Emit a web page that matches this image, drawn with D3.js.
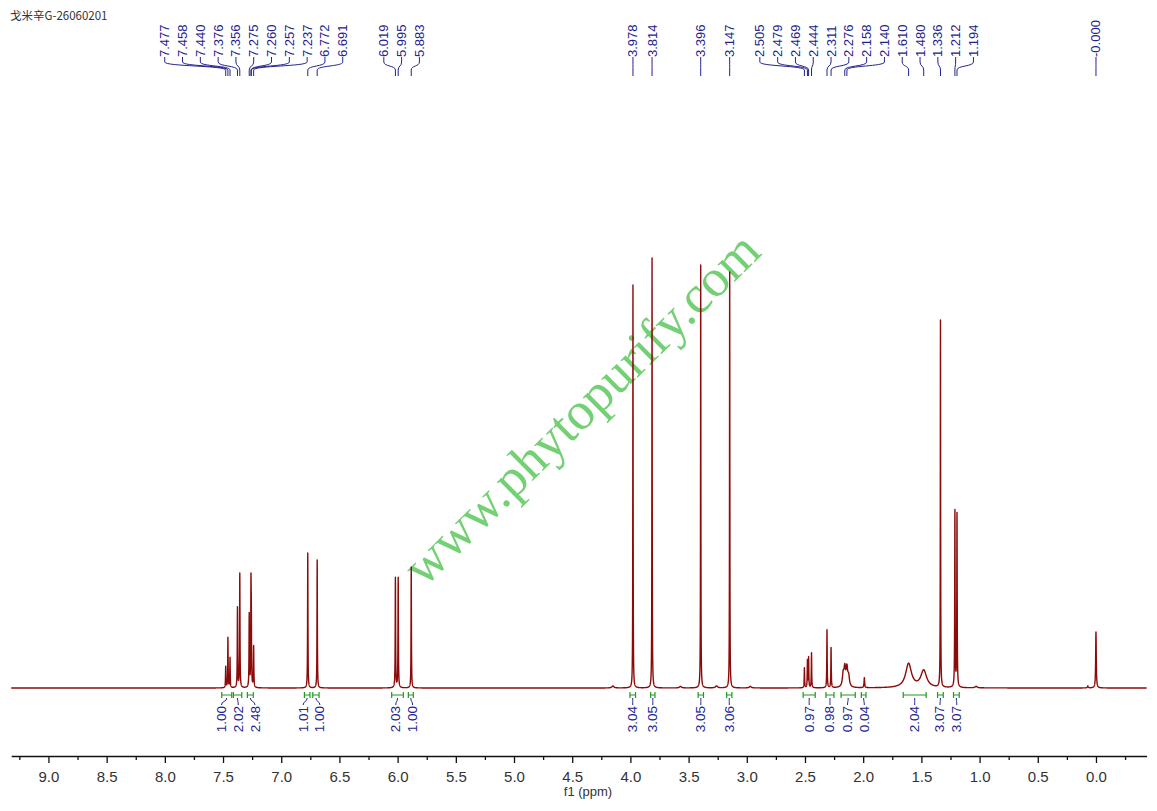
<!DOCTYPE html>
<html><head><meta charset="utf-8">
<script src="https://cdn.jsdelivr.net/npm/d3@7/dist/d3.min.js"></script>
<style>body{margin:0;background:#fff}svg{display:block}</style>
</head><body>
<svg id="c" width="1157" height="811"></svg>
<script>
// ---------- data ----------
const title = "戈米辛G-26060201";
const watermark = "www.phytopurify.com";
const xLabel = "f1 (ppm)";

// spectrum lines: chemical shift (ppm), intensity, half-width (ppm)
const peakPpm    = [7.477,7.458,7.440,7.376,7.356,7.275,7.260,7.257,7.237,6.772,6.691,6.019,5.995,5.883,
                    4.15,3.978,3.814,3.57,3.396,3.26,3.147,2.97,2.505,2.479,2.469,2.444,2.311,2.276,
                    2.172,2.158,2.140,2.125,1.990,1.610,1.480,1.336,1.212,1.194,1.03,0.07,0.000];
const peakHeight = [21,50,30,80,114,73,95,60,41,135,128,110,110,121,
                    2,403,430,1.5,423,2,416,1.5,20,27,30,35,58,40,
                    12,18,18,10,10,24,17,367,176,173,1.5,2,56];
const peakWidth  = [.002,.002,.002,.002,.002,.002,.002,.002,.002,.0018,.0018,.002,.002,.0018,
                    .01,.0015,.0015,.01,.0015,.01,.0015,.01,.002,.002,.002,.002,.002,.002,
                    .008,.008,.008,.008,.003,.03,.03,.0015,.002,.002,.01,.004,.003];

// peak labels on top
const peakLabelPpm  = [7.477,7.458,7.440,7.376,7.356,7.275,7.260,7.257,7.237,6.772,6.691,6.019,5.995,5.883,
                       3.978,3.814,3.396,3.147,2.505,2.479,2.469,2.444,2.311,2.276,2.158,2.140,
                       1.610,1.480,1.336,1.212,1.194,0.000];
const peakLabelText = ["7.477","7.458","7.440","7.376","7.356","7.275","7.260","7.257","7.237","6.772","6.691",
                       "6.019","5.995","5.883","3.978","3.814","3.396","3.147","2.505","2.479","2.469","2.444",
                       "2.311","2.276","2.158","2.140","1.610","1.480","1.336","1.212","1.194","-0.000"];

// integrals
const integralFrom  = [7.511,7.411,7.291,6.801,6.729,6.051,5.908,4.004,3.826,3.418,3.173,2.516,2.320,2.190,2.016,1.656,1.361,1.224];
const integralTo    = [7.425,7.339,7.240,6.753,6.675,5.951,5.865,3.956,3.789,3.372,3.128,2.412,2.251,2.068,1.976,1.459,1.312,1.175];
const integralValue = ["1.00","2.02","2.48","1.01","1.00","2.03","1.00","3.04","3.05","3.05","3.06",
                       "0.97","0.98","0.97","0.04","2.04","3.07","3.07"];

const majorTicks = [9.0,8.5,8.0,7.5,7.0,6.5,6.0,5.5,5.0,4.5,4.0,3.5,3.0,2.5,2.0,1.5,1.0,0.5,0.0];
const minorTicks = [9.25,8.75,8.25,7.75,7.25,6.75,6.25,5.75,5.25,4.75,4.25,3.75,3.25,2.75,2.25,1.75,1.25,0.75,0.25,-0.25];

// ---------- drawing ----------
const svg = d3.select("#c");
const x = d3.scaleLinear().domain([9.32, -0.435]).range([11.2, 1146.6]);
const y = d3.scaleLinear().domain([0, 430]).range([688, 258]);

const navy = "#23238f", green = "#1f9a1f", red = "#8b0a0a";

// title
svg.append("text").attr("x", 10).attr("y", 20)
  .attr("font-family", "'Noto Sans CJK SC', 'Liberation Sans', sans-serif")
  .attr("font-size", 11.5).attr("fill", "#333").text(title);

// watermark
svg.append("text")
  .attr("transform", "translate(581,408) rotate(-44.6)")
  .attr("text-anchor", "middle").attr("dominant-baseline", "central")
  .attr("font-family", "'Liberation Serif', 'DejaVu Serif', serif")
  .attr("font-size", 53).attr("fill", "#74d074").text(watermark);

// spectrum (sum of Lorentzian lines)
const grid = d3.range(-0.435, 9.32, 0.0005).concat(peakPpm).sort((a, b) => b - a);
const spec = grid.map(p => {
  let s = 0;
  for (let i = 0; i < peakPpm.length; i++) {
    const d = (p - peakPpm[i]) / peakWidth[i];
    s += peakHeight[i] / (1 + d * d);
  }
  return [p, s];
});
svg.append("path").datum(spec)
  .attr("fill", "none").attr("stroke", red).attr("stroke-width", 1.4)
  .attr("stroke-linejoin", "round")
  .attr("d", d3.line().x(d => x(d[0])).y(d => y(d[1])));

// label spreading
function spread(targets, gap) {
  let cl = targets.map((t, i) => ({ items: [i], sum: t, start: t }));
  let changed = true;
  while (changed) {
    changed = false;
    for (let i = 0; i < cl.length - 1; i++) {
      const a = cl[i], b = cl[i + 1];
      if (a.start + a.items.length * gap > b.start + 1e-6) {
        const m = { items: a.items.concat(b.items), sum: a.sum + b.sum };
        const n = m.items.length;
        m.start = m.sum / n - (n - 1) * gap / 2;
        cl.splice(i, 2, m);
        changed = true;
        break;
      }
    }
  }
  const out = new Array(targets.length);
  cl.forEach(c => c.items.forEach((idx, k) => out[idx] = c.start + k * gap));
  return out;
}

// top peak labels
const pTargets = peakLabelPpm.map(p => x(p));
const pPos = spread(pTargets, 17.8);
const topG = svg.append("g");
peakLabelPpm.forEach((p, i) => {
  const lx = pPos[i], px = pTargets[i];
  topG.append("path")
    .attr("d", `M${lx},57 L${lx},62 C${lx},66.5 ${px},65.5 ${px},70 L${px},76`)
    .attr("fill", "none").attr("stroke", navy).attr("stroke-width", 1);
  topG.append("text")
    .attr("transform", `translate(${lx},57) rotate(-90)`)
    .attr("dominant-baseline", "central")
    .attr("font-family", "'Liberation Sans', Arial, sans-serif")
    .attr("font-size", 13).attr("fill", navy).text(peakLabelText[i]);
});

// integrals
const iTargets = integralFrom.map((f, i) => (x(f) + x(integralTo[i])) / 2);
const iPos = spread(iTargets, 16.8);
const intG = svg.append("g");
integralFrom.forEach((f, i) => {
  const x0 = x(f), x1 = x(integralTo[i]), cx = iTargets[i], lx = iPos[i];
  intG.append("path")
    .attr("d", `M${x0},692 L${x0},698 M${x0},695 L${x1},695 M${x1},692 L${x1},698`)
    .attr("fill", "none").attr("stroke", green).attr("stroke-width", 1.2);
  intG.append("path")
    .attr("d", `M${cx},698 C${cx},702 ${lx},701 ${lx},705`)
    .attr("fill", "none").attr("stroke", navy).attr("stroke-width", 1);
  intG.append("text")
    .attr("transform", `translate(${lx},706) rotate(-90)`)
    .attr("text-anchor", "end").attr("dominant-baseline", "central")
    .attr("font-family", "'Liberation Sans', Arial, sans-serif")
    .attr("font-size", 13.5).attr("fill", navy).text(integralValue[i]);
});

// axis
const axisY = 756;
const gMaj = svg.append("g").attr("transform", `translate(0,${axisY})`)
  .call(d3.axisBottom(x).tickValues(majorTicks).tickSize(7).tickSizeOuter(0).tickPadding(8)
        .tickFormat(d3.format(".1f")));
gMaj.select(".domain").attr("stroke", "#111").attr("stroke-width", 1.4);
gMaj.selectAll(".tick line").attr("stroke", "#111").attr("stroke-width", 1.3);
gMaj.selectAll(".tick text").attr("font-family", "'Liberation Sans', Arial, sans-serif")
  .attr("font-size", 15).attr("fill", "#333");
const gMin = svg.append("g").attr("transform", `translate(0,${axisY})`)
  .call(d3.axisBottom(x).tickValues(minorTicks).tickSize(4).tickSizeOuter(0).tickFormat(""));
gMin.select(".domain").remove();
gMin.selectAll(".tick line").attr("stroke", "#111").attr("stroke-width", 1.3);

svg.append("text").attr("x", 588).attr("y", 796).attr("text-anchor", "middle")
  .attr("font-family", "'Liberation Sans', Arial, sans-serif")
  .attr("font-size", 13).attr("fill", "#333").text(xLabel);
</script>
</body></html>
